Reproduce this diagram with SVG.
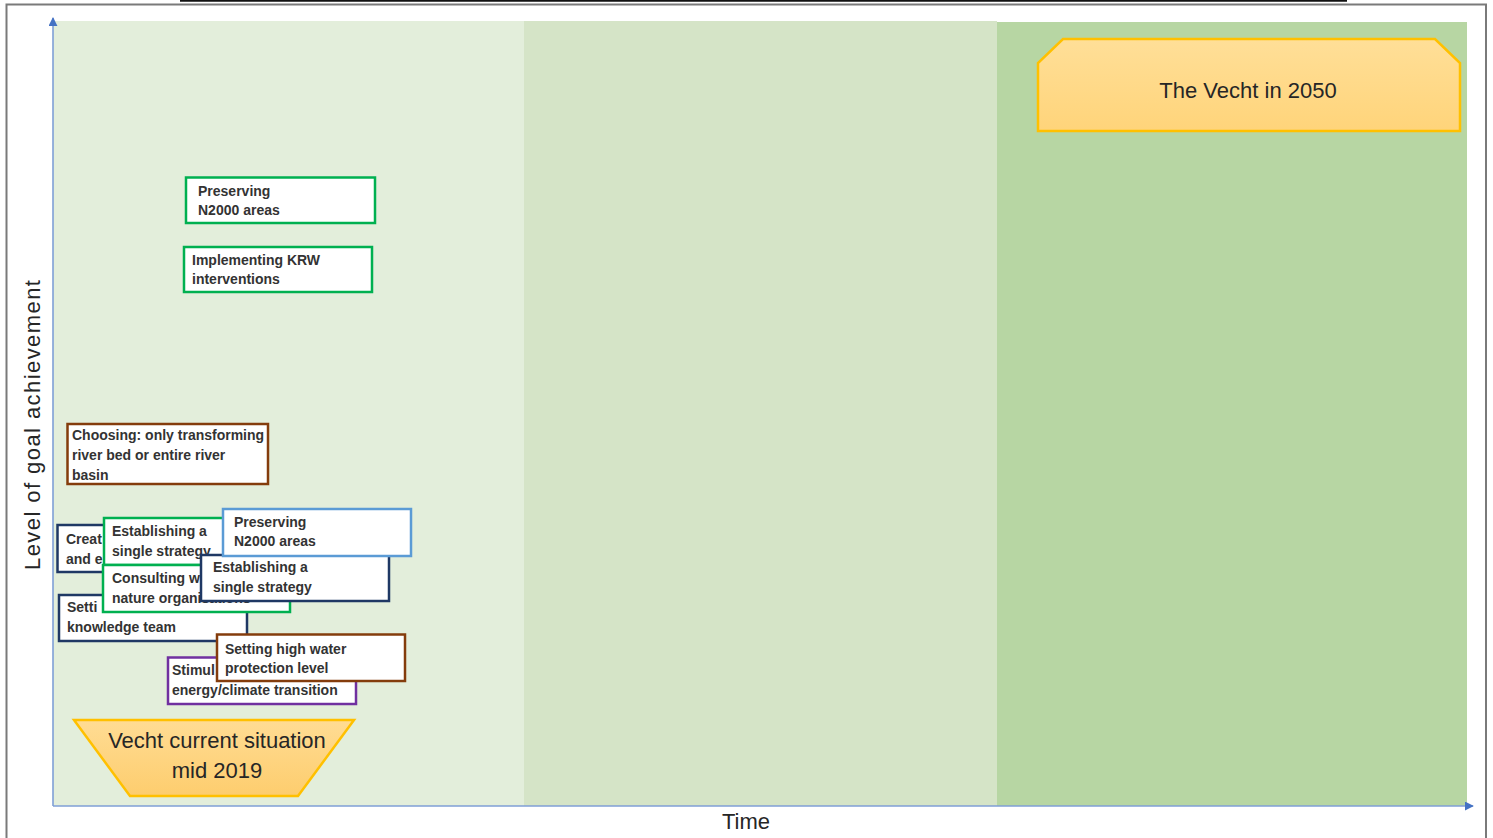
<svg xmlns="http://www.w3.org/2000/svg" width="1493" height="838" viewBox="0 0 1493 838">
<defs>
<style>
.frame{fill:none;stroke:#7a7a7a;stroke-width:2}
.axis{stroke:#7f9fd6;stroke-width:1.6;fill:none}
.box{fill:#ffffff;stroke-width:2.5}
.g{stroke:#00b050}
.n{stroke:#1f3864}
.b{stroke:#843c0c}
.l{stroke:#5b9bd5}
.p{stroke:#7030a0}
.t{font-family:"Liberation Sans",Arial,sans-serif;font-size:14px;font-weight:bold;fill:#333333}
.big{font-family:"Liberation Sans",Arial,sans-serif;font-size:22px;fill:#262626}
.milestone{stroke:#ffc000;stroke-width:2.5}
</style>
<linearGradient id="gold" x1="0" y1="0" x2="0" y2="1">
<stop offset="0" stop-color="#ffdc94"/>
<stop offset="1" stop-color="#fdcd6e"/>
</linearGradient>
<linearGradient id="gold2" x1="0" y1="0" x2="0" y2="1">
<stop offset="0" stop-color="#ffdf98"/>
<stop offset="1" stop-color="#ffd47a"/>
</linearGradient>
<marker id="arr" viewBox="0 0 10 10" refX="9" refY="5" markerWidth="9" markerHeight="9" markerUnits="userSpaceOnUse" orient="auto">
<path d="M0,0 L10,5 L0,10 z" fill="#4472c4"/>
</marker>
</defs>
<rect x="0" y="0" width="1493" height="838" fill="#ffffff"/>
<g id="frame">
<line x1="180" y1="0.8" x2="1347" y2="0.8" stroke="#111" stroke-width="2"/>
<polyline class="frame" points="6.5,838 6.5,4.5 1486,4.5 1486,838"/>
</g>
<g id="bands">
<rect x="53" y="21" width="471" height="785" fill="#e3eedb"/>
<rect x="524" y="21" width="473" height="785" fill="#d5e4c7"/>
<rect x="997" y="22" width="470" height="784" fill="#b7d6a3"/>
</g>
<g id="connectors">
<line class="axis" x1="53" y1="806" x2="53" y2="18" marker-end="url(#arr)"/>
<line class="axis" x1="53" y1="806" x2="1473" y2="806" marker-end="url(#arr)"/>
</g>
<g id="axis-labels">
<text class="big" font-size="23" transform="translate(40,425) rotate(-90)" text-anchor="middle" textLength="290">Level of goal achievement</text>
<text class="big" font-size="24" x="746" y="829" text-anchor="middle">Time</text>
</g>
<g id="node-preserving-top">
<rect class="box g" x="186" y="177.5" width="189" height="45.5"/>
<text class="t" x="198" y="196">Preserving</text>
<text class="t" x="198" y="215">N2000 areas</text>
</g>
<g id="node-krw">
<rect class="box g" x="184" y="247" width="188" height="45"/>
<text class="t" x="192" y="265">Implementing KRW</text>
<text class="t" x="192" y="284">interventions</text>
</g>
<g id="node-choosing">
<rect class="box b" x="67.5" y="424" width="200.5" height="60"/>
<text class="t" x="72" y="440">Choosing: only transforming</text>
<text class="t" x="72" y="460">river bed or entire river</text>
<text class="t" x="72" y="480">basin</text>
</g>
<g id="node-creat">
<rect class="box n" x="57.5" y="525" width="150" height="47"/>
<text class="t" x="66" y="544">Creat</text>
<text class="t" x="66" y="564">and e</text>
</g>
<g id="node-establishing-green">
<rect class="box g" x="104" y="518" width="150" height="47"/>
<text class="t" x="112" y="536">Establishing a</text>
<text class="t" x="112" y="556">single strategy</text>
</g>
<g id="node-setting-knowledge">
<rect class="box n" x="59" y="595" width="188" height="46"/>
<text class="t" x="67" y="612">Setti</text>
<text class="t" x="67" y="632">knowledge team</text>
</g>
<g id="node-consulting">
<rect class="box g" x="103" y="565" width="187" height="47"/>
<text class="t" x="112" y="583">Consulting w</text>
<text class="t" x="112" y="603">nature organisations</text>
</g>
<g id="node-establishing-navy">
<rect class="box n" x="201" y="555" width="188" height="46"/>
<text class="t" x="213" y="572">Establishing a</text>
<text class="t" x="213" y="592">single strategy</text>
</g>
<g id="node-preserving-blue">
<rect class="box l" x="223" y="509" width="188" height="47"/>
<text class="t" x="234" y="527">Preserving</text>
<text class="t" x="234" y="546">N2000 areas</text>
</g>
<g id="node-stimul">
<rect class="box p" x="168" y="657.5" width="188" height="46.5"/>
<text class="t" x="172" y="675">Stimul</text>
<text class="t" x="172" y="695">energy/climate transition</text>
</g>
<g id="node-high-water">
<rect class="box b" x="217" y="634.5" width="188" height="46.5"/>
<text class="t" x="225" y="654">Setting high water</text>
<text class="t" x="225" y="673">protection level</text>
</g>
<g id="node-current">
<polygon class="milestone" fill="url(#gold)" points="74,720 354,720 298,796 130,796"/>
<text class="big" font-size="23" x="217" y="748" text-anchor="middle">Vecht current situation</text>
<text class="big" font-size="23" x="217" y="778" text-anchor="middle">mid 2019</text>
</g>
<g id="node-2050">
<polygon class="milestone" fill="url(#gold2)" points="1063,39 1435,39 1460,63 1460,131 1038,131 1038,63"/>
<text class="big" font-size="22.5" x="1248" y="98" text-anchor="middle">The Vecht in 2050</text>
</g>
</svg>
